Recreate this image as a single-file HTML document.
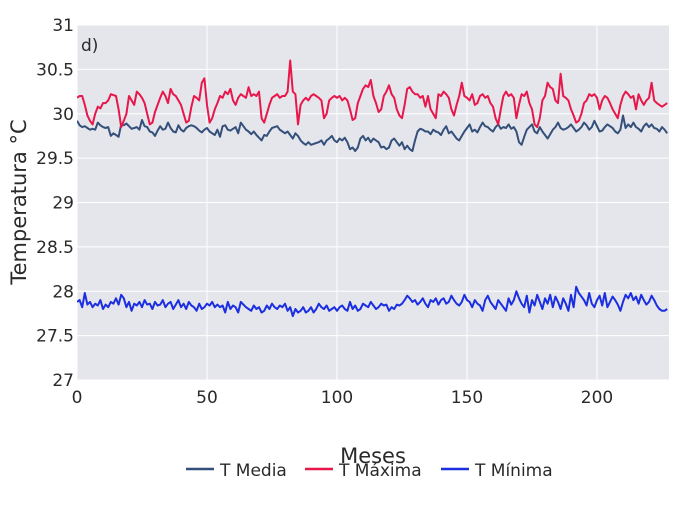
<!DOCTYPE html>
<html><head><meta charset="utf-8"><style>
body{margin:0;background:#fff;width:700px;height:500px;overflow:hidden}
svg text{font-family:"DejaVu Sans","Liberation Sans",sans-serif;fill:#2a2a2a}
</style></head><body>
<svg id="chart" width="700" height="500" xmlns="http://www.w3.org/2000/svg">
<defs><clipPath id="pc"><rect x="77" y="25" width="592" height="355"/></clipPath></defs>
<rect x="77" y="25" width="592" height="355" fill="#e5e6ec"/>
<g id="grid"></g>
<g id="ticks"></g>
<g id="series" clip-path="url(#pc)"></g>
<text x="81" y="51" font-size="17">d)</text>
<text transform="translate(26,202) rotate(-90)" text-anchor="middle" font-size="21">Temperatura °C</text>
<text x="373" y="463" text-anchor="middle" font-size="21">Meses</text>
<g>
<g><line x1="186" y1="469" x2="214" y2="469" stroke="#34507a" stroke-width="2.5"/><text x="220" y="476" font-size="17">T Media</text></g>
<g><line x1="305" y1="469" x2="333" y2="469" stroke="#e8174b" stroke-width="2.5"/><text x="339" y="476" font-size="17">T Máxima</text></g>
<g><line x1="441" y1="469" x2="469" y2="469" stroke="#1b2fe0" stroke-width="2.5"/><text x="475" y="476" font-size="17">T Mínima</text></g>
</g>
</svg>
<script>
const xTicks=[0,50,100,150,200];
const yTicks=[27,27.5,28,28.5,29,29.5,30,30.5,31];
const yTickLabels=["27","27.5","28","28.5","29","29.5","30","30.5","31"];
const tMax=[30.18,30.2,30.2,30.1,29.98,29.92,29.88,30.0,30.08,30.06,
30.12,30.12,30.15,30.22,30.21,30.2,30.05,29.85,29.92,30.0,
30.2,30.15,30.1,30.25,30.22,30.18,30.12,30.0,29.88,29.9,
30.02,30.1,30.18,30.25,30.2,30.12,30.28,30.22,30.2,30.15,
30.1,30.0,29.9,29.92,30.08,30.2,30.18,30.15,30.35,30.4,
30.1,29.9,29.95,30.05,30.12,30.2,30.18,30.25,30.22,30.28,
30.15,30.1,30.18,30.22,30.2,30.18,30.3,30.2,30.22,30.2,
30.25,29.95,29.9,30.0,30.1,30.18,30.2,30.22,30.18,30.2,
30.2,30.25,30.6,30.25,30.22,29.88,30.1,30.15,30.18,30.15,
30.2,30.22,30.2,30.18,30.15,29.95,30.0,30.15,30.18,30.2,
30.18,30.2,30.15,30.18,30.15,30.05,29.93,29.95,30.12,30.2,
30.28,30.32,30.3,30.38,30.2,30.12,30.02,30.05,30.2,30.25,
30.32,30.22,30.18,30.05,29.98,29.95,30.1,30.28,30.3,30.25,
30.22,30.22,30.18,30.2,30.08,30.2,30.05,30.0,29.95,30.22,
30.2,30.25,30.22,30.18,30.05,29.98,30.1,30.2,30.35,30.2,
30.18,30.15,30.22,30.1,30.12,30.2,30.22,30.18,30.2,30.12,
30.08,29.95,29.88,30.05,30.2,30.25,30.2,30.22,30.18,29.95,
30.1,30.22,30.2,30.25,30.12,30.05,29.88,29.85,29.95,30.15,
30.2,30.35,30.3,30.28,30.15,30.12,30.45,30.2,30.18,30.15,
30.05,29.98,29.9,29.92,30.0,30.12,30.15,30.22,30.2,30.22,
30.18,30.05,30.15,30.2,30.18,30.12,30.05,30.0,29.95,30.1,
30.2,30.25,30.22,30.18,30.2,30.05,30.22,30.15,30.1,30.15,
30.18,30.35,30.15,30.12,30.1,30.08,30.1,30.12];
const tMedia=[29.92,29.87,29.85,29.86,29.84,29.82,29.83,29.82,29.9,29.87,
29.85,29.84,29.85,29.75,29.78,29.76,29.74,29.88,29.87,29.89,
29.86,29.83,29.84,29.85,29.82,29.93,29.86,29.85,29.8,29.79,
29.75,29.81,29.86,29.82,29.83,29.9,29.84,29.8,29.79,29.87,
29.82,29.8,29.84,29.86,29.87,29.86,29.84,29.81,29.79,29.82,
29.84,29.8,29.78,29.76,29.82,29.74,29.86,29.87,29.82,29.81,
29.83,29.85,29.78,29.9,29.86,29.82,29.8,29.77,29.8,29.76,
29.73,29.7,29.76,29.75,29.8,29.84,29.85,29.86,29.82,29.8,
29.78,29.8,29.76,29.72,29.78,29.75,29.7,29.67,29.65,29.68,
29.65,29.66,29.67,29.68,29.7,29.65,29.7,29.72,29.75,29.7,
29.68,29.72,29.7,29.73,29.68,29.6,29.62,29.58,29.62,29.72,
29.75,29.7,29.73,29.68,29.72,29.7,29.68,29.62,29.63,29.6,
29.62,29.7,29.72,29.68,29.64,29.68,29.6,29.64,29.6,29.58,
29.7,29.8,29.83,29.82,29.8,29.8,29.77,29.82,29.8,29.79,
29.76,29.82,29.86,29.78,29.8,29.76,29.72,29.7,29.75,29.8,
29.84,29.88,29.8,29.82,29.79,29.85,29.9,29.86,29.85,29.82,
29.8,29.85,29.88,29.83,29.85,29.84,29.88,29.83,29.85,29.8,
29.68,29.65,29.74,29.82,29.85,29.88,29.8,29.78,29.85,29.8,
29.76,29.72,29.77,29.82,29.85,29.9,29.84,29.82,29.83,29.85,
29.88,29.84,29.8,29.82,29.85,29.9,29.87,29.82,29.85,29.92,
29.86,29.8,29.81,29.85,29.88,29.86,29.84,29.8,29.78,29.82,
29.98,29.84,29.88,29.85,29.9,29.85,29.83,29.8,29.86,29.89,
29.85,29.88,29.84,29.83,29.8,29.85,29.82,29.78];
const tMin=[27.88,27.9,27.82,27.98,27.85,27.88,27.82,27.86,27.84,27.9,
27.8,27.85,27.82,27.88,27.86,27.92,27.85,27.96,27.92,27.82,
27.88,27.78,27.86,27.84,27.88,27.82,27.9,27.85,27.86,27.8,
27.88,27.84,27.85,27.9,27.82,27.86,27.88,27.8,27.85,27.9,
27.82,27.86,27.8,27.88,27.84,27.82,27.78,27.86,27.8,27.82,
27.86,27.84,27.88,27.82,27.85,27.82,27.84,27.76,27.88,27.8,
27.84,27.82,27.76,27.88,27.85,27.82,27.8,27.78,27.84,27.8,
27.82,27.76,27.78,27.84,27.8,27.86,27.82,27.8,27.84,27.82,
27.86,27.78,27.82,27.72,27.8,27.76,27.78,27.82,27.76,27.78,
27.82,27.76,27.8,27.86,27.82,27.8,27.84,27.78,27.8,27.82,
27.78,27.82,27.84,27.8,27.78,27.88,27.8,27.84,27.78,27.8,
27.86,27.84,27.82,27.88,27.84,27.8,27.82,27.86,27.84,27.85,
27.78,27.82,27.8,27.85,27.84,27.86,27.9,27.95,27.92,27.88,
27.9,27.85,27.88,27.92,27.86,27.82,27.9,27.88,27.92,27.85,
27.9,27.92,27.86,27.88,27.95,27.9,27.86,27.84,27.88,27.96,
27.9,27.88,27.82,27.9,27.86,27.84,27.78,27.9,27.95,27.88,
27.84,27.8,27.9,27.86,27.82,27.78,27.92,27.85,27.9,28.0,
27.92,27.86,27.82,27.95,27.76,27.9,27.84,27.96,27.88,27.8,
27.92,27.86,27.96,27.82,27.94,27.88,27.8,27.92,27.86,27.78,
27.96,27.82,28.05,27.98,27.94,27.9,27.84,27.98,27.86,27.82,
27.9,27.95,27.84,27.98,27.82,27.88,27.94,27.9,27.85,27.78,
27.88,27.96,27.92,27.98,27.9,27.94,27.86,27.96,27.9,27.85,
27.88,27.95,27.9,27.84,27.8,27.78,27.78,27.8];
const NS="http://www.w3.org/2000/svg";
const X0=77,X1=669,Y0=380,Y1=25,XMAX=227.7;
function sx(i){return X0+(i/XMAX)*(X1-X0);}
function sy(v){return Y0-(v-27)/(31-27)*(Y0-Y1);}
const grid=document.getElementById('grid'),ticks=document.getElementById('ticks'),series=document.getElementById('series');
yTicks.forEach((v,k)=>{
 const l=document.createElementNS(NS,'line');
 
 
 l.setAttribute('x1',X0);l.setAttribute('x2',X1);l.setAttribute('y1',sy(v));l.setAttribute('y2',sy(v));
 l.setAttribute('stroke','#fff');l.setAttribute('stroke-width','1');grid.appendChild(l);
 const t=document.createElementNS(NS,'text');
 
 
 t.setAttribute('x',X0-3);t.setAttribute('y',sy(v)+6);t.setAttribute('text-anchor','end');t.setAttribute('font-size','17');
 t.textContent=yTickLabels[k];ticks.appendChild(t);
});
xTicks.forEach(v=>{
 const l=document.createElementNS(NS,'line');
 
 
 l.setAttribute('x1',sx(v));l.setAttribute('x2',sx(v));l.setAttribute('y1',Y1);l.setAttribute('y2',Y0);
 l.setAttribute('stroke','#fff');l.setAttribute('stroke-width','1');grid.appendChild(l);
 const t=document.createElementNS(NS,'text');
 
 
 t.setAttribute('x',sx(v));t.setAttribute('y',403);t.setAttribute('text-anchor','middle');t.setAttribute('font-size','17');
 t.textContent=String(v);ticks.appendChild(t);
});
function draw(data,color,name){
 const p=document.createElementNS(NS,'path');
 
 
 p.setAttribute('d',data.map((v,i)=>(i?'L':'M')+sx(i).toFixed(1)+','+sy(v).toFixed(1)).join(''));
 p.setAttribute('fill','none');p.setAttribute('stroke',color);p.setAttribute('stroke-width','2');p.setAttribute('stroke-linejoin','round');
 series.appendChild(p);
}
draw(tMedia,'#34507a','line-t-media');
draw(tMax,'#e8174b','line-t-maxima');
draw(tMin,'#1b2fe0','line-t-minima');
</script>
</body></html>
